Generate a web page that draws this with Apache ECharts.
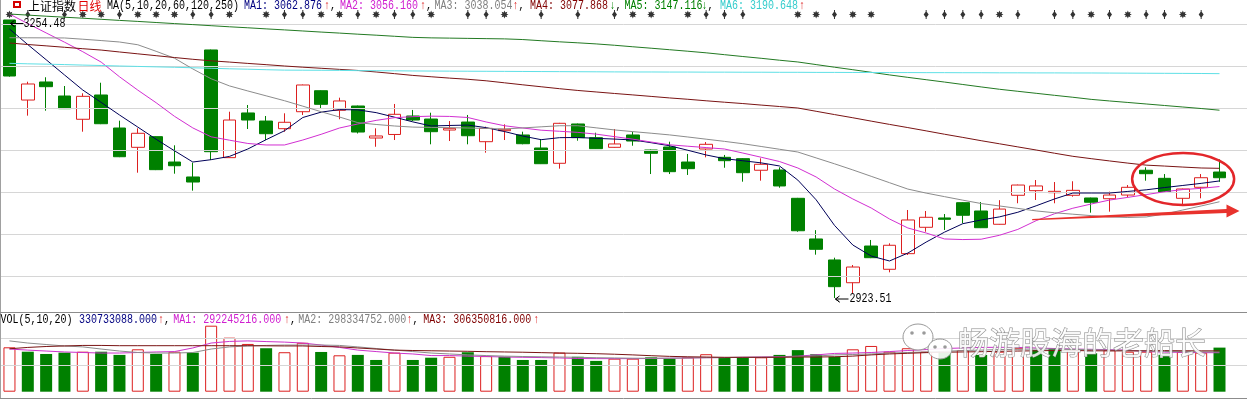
<!DOCTYPE html>
<html lang="zh-CN">
<head>
<meta charset="UTF-8">
<title>上证指数 日线</title>
<script src="https://cdn.jsdelivr.net/npm/echarts@6/dist/echarts.min.js"></script>
<style>
  html, body { margin: 0; padding: 0; background: #fff; }
  #main { width: 1247px; height: 399px; }
</style>
</head>
<body>
<div id="main"></div>
<script>
// ---- daily K line ----
var opens  = [3254.5,3159.2,3180.7,3164.0,3136.3,3165.2,3125.9,3102.9,3115.6,3085.4,
              3067.6,3218.8,3090.6,3143.8,3134.2,3125.1,3145.3,3170.3,3147.0,3152.1,
              3114.0,3118.2,3140.2,3136.6,3123.5,3133.0,3109.6,3122.7,3117.6,3102.1,
              3083.9,3130.7,3114.4,3102.9,3117.6,3099.7,3103.3,3085.4,3100.9,3091.0,
              3089.4,3075.6,3075.9,3042.2,2993.8,2968.8,2941.7,2985.4,2957.7,2976.3,
              3007.7,3018.8,3037.0,3027.1,3011.3,3045.8,3051.3,3048.9,3045.8,3042.6,
              3041.7,3046.1,3075.6,3066.0,3042.2,3055.3,3073.5];
var closes = [3187.8,3178.3,3175.1,3148.9,3163.6,3131.0,3091.7,3119.6,3076.3,3081.0,
              3061.6,3097.7,3135.4,3135.4,3119.1,3132.7,3177.1,3154.1,3158.1,3121.1,
              3116.4,3142.2,3135.4,3121.5,3125.5,3116.7,3125.5,3124.4,3107.2,3083.4,
              3131.5,3114.4,3101.3,3106.9,3110.4,3095.8,3073.9,3077.5,3106.5,3087.0,
              3072.7,3082.7,3056.9,3003.6,2981.5,2937.0,2960.4,2971.5,2986.3,3016.4,
              3019.6,3017.2,3022.0,3007.2,3029.4,3058.0,3056.9,3050.5,3051.7,3037.5,
              3046.1,3055.3,3071.5,3049.4,3053.3,3066.7,3066.7];
var lows   = [3187.0,3140.6,3146.5,3148.5,3121.5,3130.5,3091.2,3072.7,3075.8,3071.5,
              3051.3,3087.8,3090.2,3124.7,3111.6,3121.5,3141.4,3148.5,3136.3,3119.4,
              3103.6,3111.6,3134.2,3106.5,3110.4,3106.5,3096.5,3111.6,3106.5,3083.0,
              3077.5,3110.8,3100.9,3102.5,3104.8,3071.1,3071.1,3070.0,3091.0,3078.6,
              3062.0,3063.2,3054.8,3002.4,2975.1,2923.51,2929.1,2971.0,2954.1,2974.7,
              3002.4,3004.5,3012.5,3006.8,3010.9,3036.3,3040.2,3036.3,3044.1,3025.1,
              3026.3,3043.4,3063.2,3049.0,3033.0,3042.2,3061.8];
var highs  = [3254.48,3181.0,3186.3,3175.9,3167.2,3179.8,3134.6,3125.5,3116.0,3105.3,
              3084.6,3219.3,3145.3,3153.3,3140.2,3143.4,3177.6,3170.8,3162.0,3152.6,
              3125.5,3154.5,3147.4,3144.1,3134.2,3141.4,3127.5,3130.3,3121.5,3112.5,
              3132.0,3131.2,3120.3,3124.7,3121.5,3100.2,3109.6,3095.0,3109.2,3093.8,
              3089.9,3089.8,3079.1,3042.7,3004.3,2971.5,2962.8,2992.6,2988.6,3028.3,
              3027.1,3023.5,3037.5,3037.8,3040.0,3058.5,3064.0,3061.6,3062.5,3043.0,
              3050.1,3058.0,3079.1,3071.1,3053.7,3071.1,3088.5];

// ---- moving averages MA(5,10,20,60,120,250) ----
var ma5   = [3243.8,3225.2,3207.2,3189.1,3171.1,3156.4,3141.4,3127.0,3112.5,3098.8,
             3085.4,3088.2,3092.1,3100.9,3112.0,3122.6,3138.4,3144.8,3147.8,3147.5,
             3144.2,3138.8,3133.2,3128.3,3128.9,3129.4,3126.3,3121.7,3116.3,3112.0,
             3114.4,3114.6,3113.6,3112.7,3111.7,3108.4,3104.8,3099.4,3093.8,3089.4,
             3086.9,3084.4,3080.7,3063.9,3040.4,3010.0,2986.6,2973.5,2967.6,2977.0,
             2990.1,3001.9,3012.0,3016.4,3020.1,3025.6,3033.3,3041.4,3048.5,3048.5,
             3048.5,3050.4,3052.3,3055.0,3057.5,3060.0,3062.9];
var ma10  = [3261.6,3250.2,3239.1,3228.1,3216.7,3204.4,3186.9,3171.0,3156.0,3139.8,
             3126.0,3115.4,3111.4,3107.5,3105.7,3105.7,3111.6,3118.4,3125.9,3130.7,
             3135.0,3138.2,3139.4,3140.0,3139.7,3138.4,3133.1,3128.6,3125.9,3123.3,
             3122.0,3120.7,3118.6,3115.6,3112.6,3109.2,3105.9,3104.2,3102.6,3100.9,
             3096.1,3091.1,3086.0,3078.3,3067.6,3053.3,3041.4,3030.7,3017.6,3006.9,
             3000.9,2993.8,2993.1,2993.5,2998.2,3005.2,3015.6,3023.8,3030.4,3035.4,
             3040.1,3043.3,3046.6,3050.0,3052.6,3054.1,3056.2];
var ma20  = [3233.4,3233.3,3233.2,3233.1,3231.6,3230.0,3228.3,3225.0,3217.2,3209.0,
             3196.2,3184.5,3176.0,3170.0,3164.2,3158.4,3151.9,3145.3,3139.0,3132.3,
             3130.1,3128.3,3127.0,3126.6,3126.3,3125.9,3125.4,3124.7,3126.0,3127.3,
             3128.6,3128.6,3126.1,3123.6,3121.6,3119.7,3117.7,3115.2,3112.6,3110.0,
             3107.2,3103.9,3100.6,3097.3,3090.3,3083.3,3076.0,3068.4,3060.8,3053.2,
             3048.4,3044.2,3040.0,3036.0,3033.1,3030.2,3027.2,3025.0,3023.3,3021.6,
             3020.0,3019.4,3020.0,3023.5,3028.3,3033.1,3038.1];
var ma60  = [3227.1,3225.3,3223.7,3222.0,3220.3,3218.7,3216.4,3214.2,3212.0,3209.8,
             3207.7,3205.9,3204.4,3202.8,3201.3,3199.7,3198.3,3197.0,3195.7,3194.4,
             3192.6,3190.6,3188.5,3186.9,3185.3,3183.9,3182.1,3179.7,3177.3,3175.0,
             3172.7,3170.6,3168.8,3167.0,3165.3,3163.5,3161.7,3160.1,3158.3,3156.6,
             3155.0,3153.2,3151.5,3149.7,3145.8,3141.9,3138.1,3134.1,3130.2,3126.4,
             3122.5,3118.5,3114.7,3110.8,3107.1,3103.4,3099.7,3095.9,3092.2,3089.4,
             3086.7,3084.1,3081.7,3080.6,3079.4,3078.3,3077.9];
var ma120 = [3261.6,3260.3,3259.0,3257.8,3256.6,3255.3,3254.0,3252.8,3251.5,3250.2,
             3249.0,3247.7,3246.4,3245.2,3243.9,3242.7,3241.4,3240.1,3238.9,3237.6,
             3236.4,3235.1,3233.8,3233.2,3232.9,3232.6,3232.3,3232.0,3231.2,3229.8,
             3228.5,3227.3,3226.0,3224.4,3222.6,3220.9,3219.1,3217.3,3215.4,3213.2,
             3211.0,3208.9,3206.6,3204.5,3201.4,3198.3,3195.3,3192.2,3189.1,3186.2,
             3183.4,3180.6,3177.7,3174.8,3172.0,3169.6,3167.2,3164.8,3162.5,3160.0,
             3158.1,3156.3,3154.5,3152.7,3150.9,3149.1,3147.1];
var ma250 = [3202.9,3202.3,3201.9,3201.4,3200.8,3200.3,3199.7,3199.2,3198.7,3198.2,
             3197.6,3197.0,3196.4,3195.9,3195.3,3194.8,3194.7,3194.6,3194.5,3194.2,
             3194.1,3194.0,3193.8,3193.7,3193.6,3193.5,3193.4,3193.3,3193.2,3193.1,
             3193.0,3192.9,3192.8,3192.7,3192.6,3192.6,3192.5,3192.5,3192.4,3192.4,
             3192.3,3192.3,3192.2,3192.2,3192.1,3192.1,3192.0,3192.0,3191.9,3191.9,
             3191.8,3191.8,3191.7,3191.7,3191.6,3191.6,3191.5,3191.5,3191.4,3191.4,
             3191.3,3191.2,3191.1,3191.0,3190.9,3190.8,3190.6];

// ---- volume (millions of shares) and VOL(5,10,20) ----
var vols    = [333,300,283,293,300,300,276,318,283,300,
               293,495,405,358,326,296,367,298,273,276,
               238,293,238,255,262,296,267,262,238,238,
               293,262,231,248,248,258,248,258,281,258,
               258,258,276,312,281,262,318,343,300,326,
               300,300,312,276,300,326,312,326,312,288,
               312,300,300,276,300,293,330.7];
// 1 = close above previous close (red hollow bar), 0 = green
var volUp   = [1,0,0,0,1,0,0,1,0,1, 0,1,1,1,0,1,1,0,1,0,
               0,1,0,0,1,0,1,0,0,0, 1,0,0,1,1,0,0,1,1,0,
               0,1,0,0,0,0,1,1,1,1, 1,0,1,0,1,1,0,0,1,0,
               1,1,1,0,1,1,0];
var volMa5  = [320,312,305,298,294,290,290,294,298,301,
               328,365,377,381,376,372,365,350,332,312,
               301,290,283,271,271,267,264,260,258,256,
               253,249,248,248,248,249,251,253,255,256,
               258,260,262,267,276,287,290,294,301,309,
               316,324,328,332,333,332,328,324,320,318,
               315,312,300,297,295,293,292.2];
var volMa10 = [381,365,354,343,336,320,305,294,290,290,
               294,320,336,343,347,350,350,350,347,336,
               324,312,301,290,283,276,271,267,264,262,
               260,258,255,253,251,251,251,253,255,256,
               258,258,260,264,267,276,279,283,290,294,
               298,303,309,312,316,318,320,320,318,315,
               312,309,305,302,300,299,298.3];
var volMa20 = [322,332,339,343,347,347,345,345,345,345,
               345,345,345,345,344,343,343,339,336,328,
               320,312,309,307,305,303,300,298,296,293,
               290,288,285,281,276,270,265,262,260,258,
               258,258,258,260,260,262,267,276,283,288,
               293,296,298,300,303,305,307,309,309,307,
               306,306,307,308,307,306.5,306.4];

// signal markers on the top row
var starDays    = [0,4,5,7,8,9,12,14,17,18,20,23,27,34,35,37,43,44,46,47,54,59,61,64];
var spindleDays = [1,3,6,10,11,15,16,19,21,22,25,26,29,31,33,38,39,40,45,50,51,52,53,55,57,58,60,62,63,65];

var priceGrid = [2950, 3000, 3050, 3100, 3150, 3200, 3250];
var volGrid   = [200, 400];

var days = [];
for (var i = 0; i < opens.length; i++) days.push(String(i + 1));
days.push(''); // spare slot on the right edge

var RED = '#dc1f1f', GREEN = '#008000';
var MONO = '"Liberation Mono", "DejaVu Sans Mono", monospace';
var CJK = '"Noto Sans CJK SC", sans-serif';

var kline = opens.map(function (o, i) { return [o, closes[i], lows[i], highs[i]]; });
var volData = vols.map(function (v, i) {
    return {
        value: v,
        itemStyle: volUp[i] ? { color: '#fff', borderColor: RED, borderWidth: 1 } : { color: GREEN }
    };
});

function maLine(name, data, color, x, y) {
    return {
        name: name, type: 'line', xAxisIndex: x, yAxisIndex: y, data: data,
        symbol: 'none', clip: false, silent: true, z: 5,
        lineStyle: { color: color, width: 1 }
    };
}
function gridLines(values, x, y) {
    return {
        type: 'line', xAxisIndex: x, yAxisIndex: y, data: [], silent: true, z: 0,
        markLine: {
            silent: true, symbol: ['none', 'none'], label: { show: false },
            lineStyle: { color: '#d6d6d6', type: 'solid', width: 1 },
            data: values.map(function (v) { return { yAxis: v }; })
        }
    };
}

var LEFT = 0.3, WIDTH = 1250.3;
var myChart = echarts.init(document.getElementById('main'));

var option = {
    animation: false,
    backgroundColor: '#fff',
    grid: [
        { left: LEFT, width: WIDTH, top: 15.36, height: 285.6 },
        { left: LEFT, width: WIDTH, top: 9.5, height: 10 },
        { left: LEFT, width: WIDTH, top: 312.7, height: 79 }
    ],
    xAxis: [0, 1, 2].map(function (g) {
        return { type: 'category', gridIndex: g, data: days, boundaryGap: true, show: false };
    }),
    yAxis: [
        { type: 'value', gridIndex: 0, min: 2920, max: 3260, show: false },
        { type: 'value', gridIndex: 1, min: 0, max: 1, show: false },
        { type: 'value', gridIndex: 2, min: 0, max: 592.5, show: false }
    ],
    series: [
        gridLines(priceGrid, 0, 0),
        gridLines(volGrid, 2, 2),
        {
            name: '上证指数', type: 'candlestick', xAxisIndex: 0, yAxisIndex: 0,
            data: kline, barWidth: 13, z: 3,
            itemStyle: {
                color: '#fff', color0: GREEN,
                borderColor: RED, borderColor0: GREEN, borderWidth: 1
            }
        },
        maLine('MA1', ma5, '#000058', 0, 0),
        maLine('MA2', ma10, '#d22fd2', 0, 0),
        maLine('MA3', ma20, '#8c8c8c', 0, 0),
        maLine('MA4', ma60, '#7a1414', 0, 0),
        maLine('MA5', ma120, '#237a23', 0, 0),
        maLine('MA6', ma250, '#5fe0e6', 0, 0),
        {
            type: 'scatter', xAxisIndex: 1, yAxisIndex: 1, silent: true,
            data: starDays.map(function (d) { return [d, 0.5]; }),
            symbol: 'path://M10,5L7.59,6.07L8.54,8.54L6.07,7.59L5,10L3.93,7.59L1.46,8.54L2.41,6.07L0,5L2.41,3.93L1.46,1.46L3.93,2.41L5,0L6.07,2.41L8.54,1.46L7.59,3.93Z',
            symbolSize: 8, itemStyle: { color: '#000' }
        },
        {
            type: 'scatter', xAxisIndex: 1, yAxisIndex: 1, silent: true,
            data: spindleDays.map(function (d) { return [d, 0.5]; }),
            symbol: 'path://M2,0L3,0L3,2L5,5L3,8L3,10L2,10L2,8L0,5L2,2Z',
            symbolSize: [5, 9], itemStyle: { color: '#000' }
        },
        {
            name: 'VOL', type: 'bar', xAxisIndex: 2, yAxisIndex: 2,
            data: volData, barWidth: 12, z: 3
        },
        maLine('VMA1', volMa5, '#cc33cc', 2, 2),
        maLine('VMA2', volMa10, '#8c8c8c', 2, 2),
        maLine('VMA3', volMa20, '#7a1414', 2, 2)
    ]
};
myChart.setOption(option);

// ---- texts and annotations ----
function mono(text, x, y, color, align) {
    return {
        type: 'text', x: x, y: y, scaleX: 0.833, z: 100, silent: true,
        style: { text: text, x: 0, y: 0, fill: color, fontSize: 12, fontFamily: MONO,
                 align: align || 'left', verticalAlign: 'middle' }
    };
}
function px(d) { return myChart.convertToPixel({ xAxisIndex: 0, yAxisIndex: 0 }, d); }
function leftArrow(x, y) {
    return {
        type: 'polyline', z: 100, silent: true,
        shape: { points: [[x + 4, y - 3], [x, y], [x + 4, y + 3], [x, y], [x + 13, y]] },
        style: { stroke: '#000', lineWidth: 1, fill: null }
    };
}

var g = [];
// frame
g.push({ type: 'line', z: 50, shape: { x1: 0.5, y1: 0, x2: 0.5, y2: 399 }, style: { stroke: '#a0a0a0', lineWidth: 1 } });
g.push({ type: 'line', z: 50, shape: { x1: 0, y1: 312.5, x2: 1247, y2: 312.5 }, style: { stroke: '#8c8c8c', lineWidth: 1 } });
g.push({ type: 'line', z: 50, shape: { x1: 0, y1: 398.5, x2: 1247, y2: 398.5 }, style: { stroke: '#8c8c8c', lineWidth: 1 } });

// header row
g.push({ type: 'rect', z: 100, shape: { x: 13, y: 1, width: 8, height: 7 }, style: { fill: '#d40000' } });
g.push({ type: 'rect', z: 101, shape: { x: 15, y: 3, width: 4, height: 3 }, style: { fill: '#fff' } });
g.push({ type: 'text', x: 28, y: 6, z: 100, style: { text: '上证指数', fill: '#000', fontSize: 12, fontFamily: CJK, verticalAlign: 'middle' } });
g.push({ type: 'text', x: 77.5, y: 6, z: 100, style: { text: '日线', fill: '#e00000', fontSize: 12, fontFamily: CJK, verticalAlign: 'middle' } });
g.push(mono('MA(5,10,20,60,120,250)', 107, 6, '#000'));
var head = [
    ['MA1: 3062.876', 244,   '#000080', '↑', 327,   RED],
    ['MA2: 3056.160', 340,   '#d020d0', '↑', 423,   RED],
    ['MA3: 3038.054', 434.5, '#808080', '↑', 515.5, RED],
    ['MA4: 3077.868', 530,   '#800000', '↓', 612.5, GREEN],
    ['MA5: 3147.116', 624.5, '#008000', '↓', 704.5, GREEN],
    ['MA6: 3190.648', 720,   '#33cccc', '↑', 802,   RED]
];
head.forEach(function (h, k) {
    g.push(mono(h[0], h[1], 6, h[2]));
    g.push(mono(h[3], h[4], 6, h[5], 'center'));
    if (k < head.length - 1) g.push(mono(',', h[4] + 3, 6, '#000'));
});

// volume header
g.push(mono('VOL(5,10,20)', 0.5, 319.5, '#000'));
var vhead = [
    ['330733088.000', 79,    '#000080', 161],
    ['MA1: 292245216.000', 173.3, '#d020d0', 287],
    ['MA2: 298334752.000', 298.3, '#808080', 409.5],
    ['MA3: 306350816.000', 423.3, '#800000', 536.3]
];
vhead.forEach(function (h, k) {
    g.push(mono(h[0], h[1], 319.5, h[2]));
    g.push(mono('↑', h[3], 319.5, RED, 'center'));
    if (k < vhead.length - 1) g.push(mono(',', h[3] + 3, 319.5, '#000'));
});

// high / low labels
var hi = px([0, highs[0]]);
g.push(leftArrow(hi[0] + 1, hi[1] + 3.5));
g.push(mono(highs[0].toFixed(2), hi[0] + 14, hi[1] + 4, '#000'));
var lo = px([45, lows[45]]);
g.push(leftArrow(lo[0] + 1, lo[1] + 1));
g.push(mono(lows[45].toFixed(2), lo[0] + 15, lo[1] + 1, '#000'));

// hand-drawn red ellipse and arrow
var c = px([64, 3065.2]);
g.push({ type: 'ellipse', z: 110, silent: true, shape: { cx: c[0] + 0.3, cy: c[1], rx: 51, ry: 26 },
         style: { fill: null, stroke: '#e3262a', lineWidth: 2.5 } });
var t = px([56, 3017]), h = px([66, 3027]);
g.push({ type: 'polygon', z: 110, silent: true,
         shape: { points: [[t[0] - 4, t[1] - 0.5], [h[0] + 7, h[1] - 2], [h[0] + 7, h[1] - 6.5],
                           [h[0] + 20, h[1]], [h[0] + 7, h[1] + 6.5], [h[0] + 7, h[1] + 2], [t[0] - 4, t[1] + 0.7]] },
         style: { fill: '#e8322d' } });

// watermark
g.push({ type: 'ellipse', z: 120, shape: { cx: 918, cy: 337, rx: 15, ry: 13 }, style: { fill: 'rgba(255,255,255,0.9)', stroke: '#9a9a9a', lineWidth: 1 } });
g.push({ type: 'ellipse', z: 121, shape: { cx: 940, cy: 349, rx: 12, ry: 10 }, style: { fill: 'rgba(255,255,255,0.9)', stroke: '#9a9a9a', lineWidth: 1 } });
[[912, 333], [924, 333], [935, 347], [945, 347]].forEach(function (p) {
    g.push({ type: 'circle', z: 122, shape: { cx: p[0], cy: p[1], r: 1.8 }, style: { fill: '#9a9a9a' } });
});
g.push({ type: 'text', x: 958, y: 342, z: 120, silent: true,
         style: { text: '畅游股海的老船长', fontSize: 31, fontFamily: CJK, fill: 'rgba(255,255,255,0.85)',
                  stroke: '#8a8a8a', lineWidth: 1, verticalAlign: 'middle' } });

myChart.setOption({ graphic: g });
</script>
</body>
</html>
